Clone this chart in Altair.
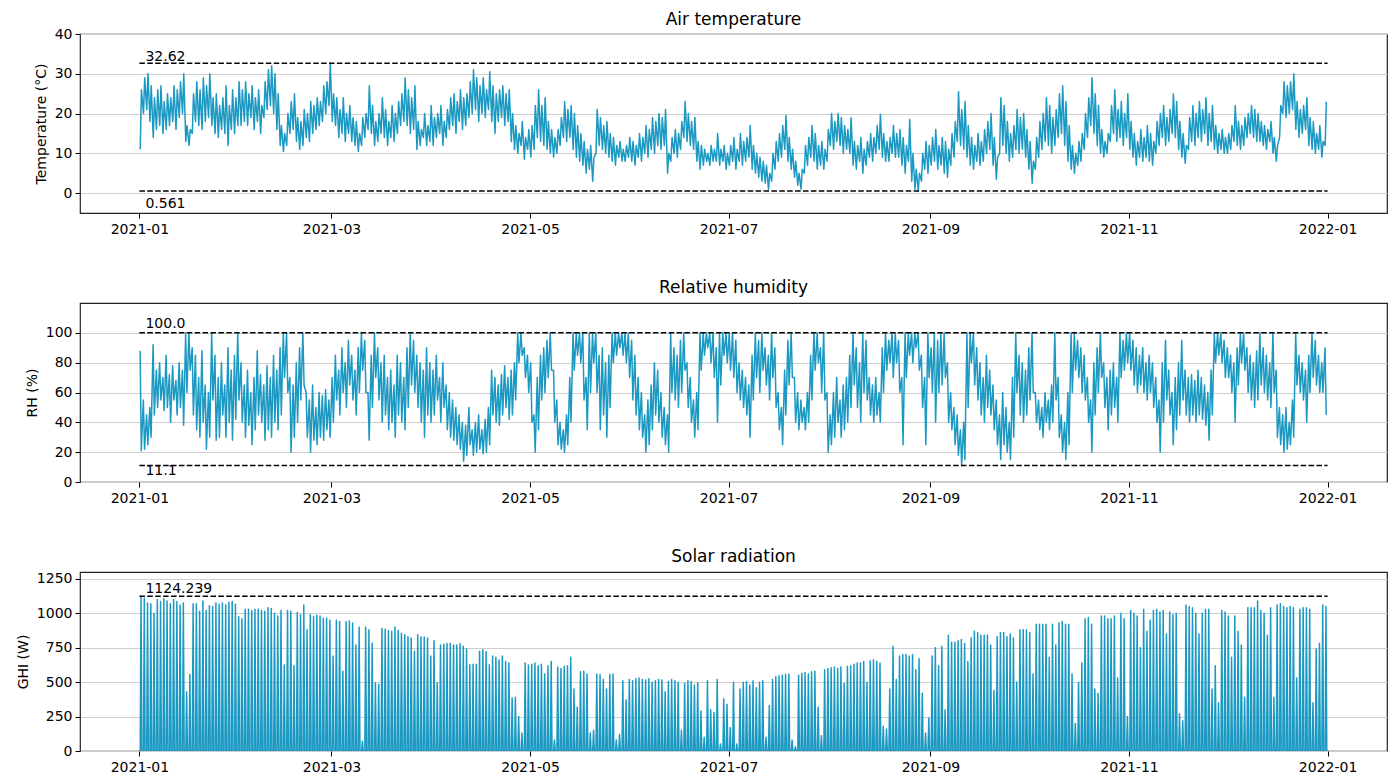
import altair as alt
import pandas as pd
from datetime import datetime, timedelta

# ---------------------------------------------------------------------------
# Daily values for 2021 (index 0 = 1 January, 365 days), one line per month
# ---------------------------------------------------------------------------

# Air temperature, daily maximum (deg C)
TEMP_MAX = (
    [26, 29, 30, 27, 24, 26, 27, 23, 25, 24, 27, 26, 28, 30, 17, 16, 25, 28, 26, 29, 27, 30, 24, 25, 22, 24, 27, 22, 26, 24, 28]
    + [26, 28, 25, 27, 24, 26, 22, 28, 31, 32, 30, 25, 17, 15, 20, 23, 25, 19, 18, 21, 20, 23, 22, 24, 23, 27, 28, 32.62]
    + [25, 24, 21, 24, 20, 22, 19, 18, 15, 19, 20, 27, 22, 18, 20, 24, 21, 18, 22, 20, 23, 25, 29, 26, 24, 27, 18, 16, 20, 17, 22]
    + [19, 20, 22, 18, 21, 24, 25, 23, 26, 24, 25, 28, 31, 29, 27, 29, 26, 30.5, 27, 25, 26, 27, 25, 26, 20, 17, 15, 18, 14, 16]
    + [17, 22, 26, 22, 24, 18, 16, 14, 16, 19, 23, 21, 22, 20, 17, 15, 13, 11, 12, 9, 21, 19, 17, 18, 15, 14, 12, 13, 11, 12, 14]
    + [13, 12, 15, 14, 17, 16, 19, 18, 20, 19, 21, 10, 14, 16, 15, 18, 23, 20, 18, 19, 13, 12, 11, 10, 12, 11, 15, 11, 12, 10]
    + [12, 14, 11, 15, 13, 14, 17, 12, 10, 9, 8, 7, 5, 10, 13, 15, 17, 19.5, 14, 11, 8, 5, 6, 12, 14, 17, 15, 12, 13, 11, 16]
    + [20, 18, 20, 19, 17, 16, 19, 13, 12, 14, 11, 13, 15, 14, 17, 19.8, 15, 13, 14, 17, 15, 16, 14, 12, 18.5, 10, 6, 5, 10, 13, 12]
    + [14, 16, 12, 14, 13, 11, 15, 18, 25.5, 21, 23, 17, 14, 12, 15, 13, 16, 18, 20, 14, 9, 24, 22, 18, 15, 17, 21, 19, 20, 16]
    + [13, 8, 14, 18, 20, 24, 22, 19, 21, 25, 27, 23, 17, 12, 10, 13, 15, 20, 24, 29, 25, 22, 16, 13, 15, 22, 26, 21, 23, 20, 25]
    + [18, 15, 13, 16, 14, 17, 15, 13, 18, 20, 22, 19, 21, 25, 23, 18, 15, 12, 19, 22, 20, 23, 21, 24, 20, 22, 17, 15, 16, 14]
    + [15, 17, 22, 18, 17, 19, 20, 22, 21, 20, 18, 17, 16, 18, 14, 12, 22, 28, 27, 28, 30, 23, 21, 22, 24, 19, 18, 15, 17, 13, 23]
)

# Air temperature, daily minimum (deg C)
TEMP_MIN = (
    [11, 20, 21, 18, 14, 16, 17, 15, 16, 17, 18, 16, 19, 20, 13, 12, 15, 18, 17, 16, 18, 19, 17, 15, 14, 16, 15, 12, 16, 15, 17]
    + [17, 18, 17, 19, 16, 18, 15, 19, 21, 22, 20, 16, 12, 10.5, 12, 15, 16, 13, 11, 12, 14, 13, 15, 16, 17, 18, 20, 22]
    + [18, 17, 14, 15, 13, 15, 13, 12, 10.5, 12, 14, 16, 15, 12, 13, 15, 14, 12, 14, 13, 15, 17, 18, 17, 15, 16, 11, 12, 14, 12, 13]
    + [12, 14, 15, 12, 14, 16, 17, 15, 18, 16, 17, 19, 20, 21, 18, 20, 19, 21, 18, 15, 18, 19, 17, 18, 13, 11, 10, 12, 8.5, 11]
    + [9, 11, 14, 13, 12, 11, 10, 9, 10, 12, 14, 13, 14, 11, 9, 8, 7, 5, 6, 3, 10, 12, 11, 10, 9, 8, 7, 9, 8, 8, 9]
    + [8, 7, 9, 8, 10, 9, 11, 10, 12, 11, 12, 5, 8, 10, 9, 11, 14, 13, 12, 11, 8, 6, 7, 8, 7, 8, 8, 7, 8, 6]
    + [7, 8, 6, 8, 7, 8, 9, 6, 5, 4, 3, 2.5, 1, 3, 6, 8, 9, 11, 8, 6, 4, 2, 1, 5, 7, 9, 8, 6, 7, 6, 8]
    + [12, 11, 13, 12, 10, 11, 10, 7, 6, 8, 5, 7, 9, 8, 10, 11, 9, 8, 8, 10, 9, 9, 7, 5, 8, 3, 1, 0.561, 3, 6, 5]
    + [7, 8, 6, 7, 5, 4, 7, 9, 13, 12, 11, 9, 7, 6, 8, 7, 8, 10, 11, 7, 3.5, 10, 12, 10, 8, 9, 11, 10, 11, 9]
    + [6, 2.5, 6, 9, 11, 13, 12, 10, 12, 14, 15, 12, 8, 6, 5, 7, 8, 11, 14, 17, 15, 12, 10, 9, 10, 13, 15, 13, 14, 12, 14]
    + [11, 9, 7, 9, 8, 9, 8, 7, 10, 12, 14, 12, 13, 15, 14, 11, 9, 7.5, 11, 13, 12, 14, 13, 15, 12, 13, 11, 10, 11, 10]
    + [10, 11, 13, 12, 11, 12, 14, 15, 14, 13, 13, 12, 11, 13, 10, 8, 14, 20, 19, 20, 21, 16, 14, 15, 16, 12, 11, 10, 11, 9, 12]
)

# Relative humidity, daily maximum (%)
RH_MAX = (
    [88, 55, 45, 50, 92, 75, 80, 70, 85, 72, 78, 68, 80, 75, 100, 100, 90, 85, 70, 88, 65, 60, 100, 85, 70, 80, 65, 90, 75, 85, 100]
    + [80, 65, 75, 60, 70, 88, 72, 65, 78, 70, 85, 75, 90, 100, 100, 70, 65, 80, 90, 100, 60, 55, 65, 50, 60, 58, 62, 55]
    + [70, 85, 75, 90, 80, 95, 85, 75, 90, 100, 95, 60, 85, 100, 90, 80, 85, 70, 75, 65, 85, 80, 70, 90, 100, 95, 85, 80, 75, 90, 80]
    + [75, 85, 70, 80, 65, 60, 55, 50, 45, 40, 38, 50, 35, 40, 45, 35, 42, 50, 75, 70, 65, 72, 78, 70, 75, 80, 100, 100, 90, 85]
    + [80, 45, 70, 85, 90, 95, 100, 75, 55, 40, 35, 45, 70, 100, 100, 100, 100, 70, 100, 100, 100, 85, 90, 80, 85, 100, 100, 100, 100, 100, 100]
    + [95, 85, 70, 60, 45, 55, 65, 80, 75, 60, 50, 45, 100, 90, 85, 95, 100, 80, 70, 55, 60, 100, 100, 100, 100, 100, 90, 100, 100, 100]
    + [100, 100, 95, 80, 75, 70, 65, 85, 100, 95, 100, 90, 85, 100, 90, 60, 50, 75, 95, 100, 70, 60, 55, 50, 60, 85, 100, 100, 90, 100, 60]
    + [45, 60, 70, 55, 65, 70, 85, 100, 90, 80, 100, 95, 70, 65, 70, 60, 90, 100, 95, 100, 100, 95, 70, 100, 100, 100, 100, 100, 85, 70, 100]
    + [90, 100, 95, 100, 100, 80, 60, 50, 45, 35, 40, 100, 100, 100, 90, 80, 70, 85, 75, 65, 55, 45, 60, 50, 40, 70, 100, 85, 80, 75]
    + [90, 100, 60, 55, 50, 60, 55, 65, 100, 70, 45, 40, 60, 100, 100, 95, 90, 85, 70, 55, 80, 90, 100, 80, 70, 75, 80, 70, 100, 95, 100]
    + [100, 95, 90, 85, 90, 80, 85, 80, 70, 55, 80, 95, 75, 60, 70, 80, 95, 75, 70, 72, 68, 75, 70, 65, 60, 75, 100, 100, 100, 95]
    + [90, 85, 80, 90, 100, 100, 90, 85, 80, 88, 100, 90, 85, 80, 100, 75, 50, 45, 50, 40, 55, 100, 85, 80, 75, 85, 100, 95, 85, 80, 90]
)

# Relative humidity, daily minimum (%)
RH_MIN = (
    [21, 22, 25, 30, 45, 50, 55, 48, 50, 40, 55, 45, 50, 38, 60, 75, 45, 35, 30, 40, 22, 30, 55, 28, 30, 45, 30, 40, 28, 42, 55]
    + [40, 30, 38, 25, 35, 45, 40, 28, 35, 30, 40, 35, 45, 70, 60, 20, 30, 40, 55, 65, 30, 20, 28, 25, 30, 28, 35, 30]
    + [40, 55, 45, 60, 50, 65, 55, 45, 60, 75, 60, 28, 50, 70, 55, 40, 45, 35, 40, 30, 45, 40, 35, 50, 65, 60, 50, 40, 30, 45, 40]
    + [45, 55, 40, 50, 35, 30, 28, 25, 22, 14, 18, 25, 18, 20, 22, 19, 20, 25, 45, 40, 38, 45, 50, 42, 45, 55, 80, 85, 70, 60]
    + [40, 20, 35, 55, 60, 70, 75, 40, 25, 22, 20, 25, 40, 75, 85, 80, 55, 35, 60, 80, 60, 35, 45, 30, 50, 80, 85, 90, 85, 80, 70]
    + [55, 45, 35, 30, 20, 25, 35, 45, 40, 30, 25, 20, 60, 55, 50, 60, 75, 50, 40, 30, 35, 75, 85, 90, 80, 70, 40, 65, 85, 80]
    + [75, 70, 60, 55, 50, 45, 30, 55, 70, 60, 75, 65, 55, 70, 50, 35, 25, 45, 65, 70, 40, 35, 40, 35, 40, 55, 75, 80, 60, 55, 20]
    + [25, 30, 40, 30, 35, 40, 50, 65, 50, 40, 60, 55, 45, 40, 45, 40, 60, 75, 80, 70, 80, 60, 25, 70, 85, 80, 90, 75, 50, 25, 70]
    + [60, 40, 60, 65, 70, 40, 35, 25, 18, 11.1, 15, 50, 80, 65, 55, 45, 40, 50, 45, 35, 25, 15, 25, 20, 15, 30, 60, 45, 40, 45]
    + [55, 60, 40, 35, 30, 40, 35, 40, 55, 30, 20, 15, 25, 60, 75, 70, 60, 55, 40, 20, 45, 60, 70, 50, 35, 45, 50, 40, 70, 75, 80]
    + [75, 65, 60, 65, 60, 55, 60, 50, 40, 20, 40, 55, 45, 25, 35, 45, 55, 45, 40, 45, 40, 45, 42, 38, 28, 45, 80, 85, 80, 70]
    + [70, 60, 40, 65, 80, 75, 60, 55, 50, 55, 65, 60, 55, 50, 60, 30, 25, 20, 22, 25, 30, 65, 60, 55, 40, 60, 70, 65, 60, 60, 45]
)

# Global horizontal irradiance, daily peak (W)
GHI_PEAK = (
    [1124.239, 1110, 1075, 1070, 1000, 1100, 1085, 1105, 1090, 1070, 1100, 1085, 1060, 1075, 430, 555, 1070, 1070, 1015, 1090, 1020, 1055, 1050, 1075, 1065, 1075, 1060, 1080, 1085, 1065, 975]
    + [960, 1030, 1030, 1020, 1030, 1030, 1020, 1015, 1040, 1035, 1000, 980, 1020, 625, 1020, 1015, 620, 1005, 990, 1060, 880, 990, 975, 985, 980, 965, 965, 950]
    + [690, 950, 940, 580, 940, 945, 930, 770, 900, 70, 900, 880, 785, 495, 485, 890, 885, 875, 870, 900, 875, 855, 845, 830, 820, 725, 845, 828, 828, 820, 690]
    + [800, 495, 770, 775, 780, 780, 770, 770, 780, 760, 740, 627, 630, 630, 725, 735, 720, 627, 690, 680, 660, 690, 650, 640, 385, 390, 250, 130, 640, 625]
    + [630, 640, 620, 630, 560, 620, 650, 80, 610, 600, 615, 620, 680, 450, 320, 575, 580, 560, 130, 150, 560, 555, 520, 450, 555, 560, 80, 120, 510, 370, 520]
    + [510, 525, 530, 520, 515, 525, 500, 510, 520, 515, 430, 505, 520, 510, 500, 150, 490, 510, 505, 480, 495, 290, 100, 510, 300, 280, 520, 50, 380, 340]
    + [170, 500, 50, 450, 500, 505, 480, 510, 460, 500, 510, 100, 330, 520, 540, 545, 550, 555, 560, 80, 30, 550, 565, 570, 560, 575, 580, 320, 110, 590, 600]
    + [605, 610, 600, 610, 490, 615, 620, 630, 640, 640, 650, 500, 655, 660, 650, 640, 180, 160, 450, 760, 520, 690, 700, 700, 690, 700, 590, 670, 420, 130, 240]
    + [690, 750, 620, 760, 300, 840, 790, 790, 800, 810, 780, 650, 820, 870, 860, 840, 840, 840, 770, 440, 830, 860, 860, 830, 850, 820, 500, 880, 880, 880]
    + [860, 560, 920, 920, 920, 920, 680, 920, 770, 930, 940, 920, 920, 560, 200, 500, 640, 960, 970, 920, 450, 420, 980, 980, 960, 960, 980, 530, 1000, 960, 250]
    + [1020, 1000, 980, 750, 1030, 870, 950, 1020, 1030, 1010, 1020, 850, 1010, 990, 1000, 270, 220, 1060, 1050, 1040, 1000, 850, 1000, 1030, 1030, 450, 620, 350, 1020, 1010]
    + [980, 680, 980, 870, 770, 390, 1040, 1040, 1040, 1090, 1020, 1000, 840, 1040, 390, 1060, 1070, 1050, 1040, 1050, 1040, 530, 1030, 1040, 1040, 1030, 350, 740, 780, 1060, 1050]
)

for series in (TEMP_MAX, TEMP_MIN, RH_MAX, RH_MIN, GHI_PEAK):
    assert len(series) == 365, len(series)

# Axis ticks
TEMP_TICKS = [0, 10, 20, 30, 40]
RH_TICKS = [0, 20, 40, 60, 80, 100]
GHI_TICKS = [0, 250, 500, 750, 1000, 1250]
MONTH_TICKS = [(2021, 1), (2021, 3), (2021, 5), (2021, 7), (2021, 9), (2021, 11), (2022, 1)]

LINE_COLOR = "#1b99c2"
FONT = "DejaVu Sans"
PANEL_W = 1307
PANEL_H = 179

START = datetime(2021, 1, 1)


def stamp(day, hour):
    return (START + timedelta(days=day, hours=hour)).strftime("%Y-%m-%dT%H:%M:%S")


def two_point_cycle(first, second, h_first, h_second):
    rows = []
    for d, (a, b) in enumerate(zip(first, second)):
        rows.append({"t": stamp(d, h_first), "v": a})
        rows.append({"t": stamp(d, h_second), "v": b})
    return pd.DataFrame(rows)


# Temperature: coolest near dawn, warmest mid-afternoon
temp_df = two_point_cycle(TEMP_MIN, TEMP_MAX, 6, 15)
# Humidity: wettest near dawn, driest in the afternoon
rh_df = two_point_cycle(RH_MAX, RH_MIN, 5, 14)
# Irradiance: zero at night, one peak at midday
ghi_rows = []
for d, peak in enumerate(GHI_PEAK):
    ghi_rows += [
        {"t": stamp(d, 6), "v": 0.0},
        {"t": stamp(d, 12), "v": peak},
        {"t": stamp(d, 18), "v": 0.0},
    ]
ghi_df = pd.DataFrame(ghi_rows)

x_scale = alt.Scale(
    domain=[
        alt.DateTime(year=2020, month=12, date=13, hours=18),
        alt.DateTime(year=2022, month=1, date=19, hours=6),
    ]
)
x_axis = alt.Axis(
    values=[alt.DateTime(year=y, month=m, date=1) for y, m in MONTH_TICKS],
    format="%Y-%m",
    title=None,
    grid=False,
    domain=False,
    labelAngle=0,
    labelFont=FONT,
    labelFontSize=14,
    labelColor="black",
    labelPadding=4,
    tickSize=5,
    tickColor="black",
    labelFlush=False,
)


def panel(df, title, y_title, y_domain, y_ticks, top, bottom, top_dy, bottom_dy,
          title_offset=6):
    y_enc = alt.Y(
        "v:Q",
        scale=alt.Scale(domain=y_domain, nice=False, zero=False),
        axis=alt.Axis(
            values=y_ticks,
            format="d",
            title=y_title,
            titleFont=FONT,
            titleFontSize=14,
            titleFontWeight="normal",
            titleColor="black",
            titlePadding=6,
            labelFont=FONT,
            labelFontSize=14,
            labelColor="black",
            labelPadding=3,
            tickSize=5,
            tickColor="black",
            domain=False,
            grid=True,
            gridColor="#cfcfcf",
            gridWidth=1,
        ),
    )
    x_enc = alt.X("t:T", scale=x_scale, axis=x_axis)

    line = alt.Chart(df).mark_line(
        color=LINE_COLOR, strokeWidth=1.5, strokeJoin="round", clip=True
    ).encode(x=x_enc, y=y_enc)

    layers = [line]
    marks = [(top, top_dy, "alphabetic"), (bottom, bottom_dy, "top")]
    for value, dy, baseline in marks:
        if value is None:
            continue
        ref = pd.DataFrame(
            {"t": ["2021-01-01T00:00:00"], "t2": ["2022-01-01T00:00:00"],
             "v": [value], "label": [str(float(value))]}
        )
        rule = alt.Chart(ref).mark_rule(
            color="black", strokeWidth=1.5, strokeDash=[5.5, 2.4]
        ).encode(x=x_enc, x2="t2:T", y=y_enc)
        text = alt.Chart(ref).mark_text(
            align="left", baseline=baseline, dx=6, dy=dy,
            font=FONT, fontSize=14, color="black",
        ).encode(x=x_enc, y=y_enc, text="label:N")
        layers += [rule, text]

    return alt.layer(*layers).properties(
        width=PANEL_W,
        height=PANEL_H,
        title=alt.TitleParams(
            title, font=FONT, fontSize=17, fontWeight="normal",
            color="black", anchor="middle", offset=title_offset,
        ),
    )


temp_panel = panel(
    temp_df, "Air temperature", "Temperature (°C)", [-5, 40], TEMP_TICKS,
    max(TEMP_MAX), min(TEMP_MIN), -2, 6, title_offset=-2,
)
rh_panel = panel(
    rh_df, "Relative humidity", "RH (%)", [0, 120], RH_TICKS,
    max(RH_MAX), min(RH_MIN), -5, -1,
)
ghi_panel = panel(
    ghi_df, "Solar radiation", "GHI (W)", [0, 1300], GHI_TICKS,
    max(GHI_PEAK), None, -3, 0,
)

chart = (
    alt.vconcat(temp_panel, rh_panel, ghi_panel, spacing=41)
    .properties(
        background="white",
        padding={"left": 15, "top": 10, "right": 2, "bottom": 2},
    )
    .configure_view(stroke="#222222", strokeWidth=1.2)
)

chart.save("out.html", embed_options={"renderer": "svg", "actions": False})
